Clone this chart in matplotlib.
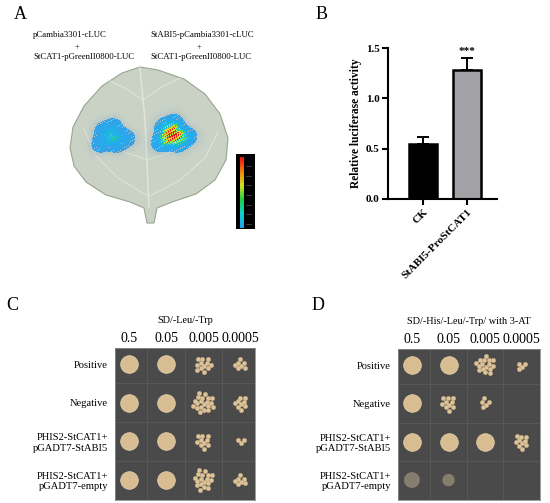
import numpy as np
import matplotlib
matplotlib.use('Agg')
import matplotlib.pyplot as plt
from matplotlib.colors import LinearSegmentedColormap
from matplotlib.patches import Polygon, Rectangle

plt.rcParams['font.family'] = ['Liberation Serif', 'DejaVu Serif']

# ----- panel B data
groups = ['CK', 'StABI5-ProStCAT1']
luc_mean = [0.55, 1.28]
luc_err = [0.065, 0.12]
bar_colors = ['#000000', '#a3a3a7']
signif = ['', '***']

# ----- panel A data
construct_top = ['pCambia3301-cLUC', 'StABI5-pCambia3301-cLUC']
construct_bottom = ['StCAT1-pGreenII0800-LUC', 'StCAT1-pGreenII0800-LUC']
spot_xy = [(112, 137), (173, 135)]
spot_peak = [0.58, 1.1]
spot_size = [(21, 17), (22, 19)]

# ----- panel C/D data
dilutions = ['0.5', '0.05', '0.005', '0.0005']
strains = ['Positive', 'Negative', 'PHIS2-StCAT1+\npGADT7-StABI5',
           'PHIS2-StCAT1+\npGADT7-empty']
# 0 = confluent spot, -1 = faint spot, -2 = nothing, n>0 = n single colonies
growth_C = [[0, 0, 12, 7],
            [0, 0, 20, 9],
            [0, 0, 10, 3],
            [0, 0, 18, 7]]
growth_D = [[0, 0, 16, 4],
            [0, 10, 5, -2],
            [0, 0, 0, 10],
            [-1, -1, -2, -2]]

fig = plt.figure(figsize=(5.5, 5.03), dpi=100)

# canvas in pixel coordinates
ax0 = fig.add_axes([0, 0, 1, 1])
ax0.set_xlim(0, 550)
ax0.set_ylim(503, 0)
ax0.axis('off')

for lab, (px, py) in zip('ABCD', [(20, 14), (322, 14), (12, 305), (318, 305)]):
    ax0.text(px, py, lab, fontsize=13, ha='center', va='center')

for t1, t2, px, pp in zip(construct_top, construct_bottom, [33, 150],
                          [77, 199]):
    ax0.text(px, 35, t1, fontsize=6.3, ha='left', va='center')
    ax0.text(pp, 47, '+', fontsize=6, ha='center', va='center')
    ax0.text(px, 57, t2, fontsize=6.3, ha='left', va='center')

# leaf
leaf = [(140, 67), (158, 70), (184, 79), (205, 94), (220, 114), (228, 138),
        (226, 160), (215, 180), (196, 194), (172, 202), (157, 208),
        (154, 223), (147, 223), (144, 208), (130, 202), (106, 195),
        (86, 182), (74, 166), (70, 148), (73, 127), (84, 106), (102, 86),
        (122, 73)]
ax0.add_patch(Polygon(leaf, closed=True, facecolor='#c9d2c5',
                      edgecolor='#98a590', lw=0.8))
veins = [[(140, 68), (145, 120), (149, 207)],
         [(143, 100), (125, 88), (108, 80)],
         [(143, 100), (163, 86), (180, 78)],
         [(148, 196), (118, 178), (95, 155), (84, 128)],
         [(150, 196), (180, 180), (205, 158), (218, 132)],
         [(147, 160), (120, 150), (98, 138)],
         [(147, 160), (178, 150), (200, 138)]]
for k, v in enumerate(veins):
    v = np.array(v)
    ax0.plot(v[:, 0], v[:, 1], color='#dfe5dc', lw=1.1 if k == 0 else 0.7)

# luciferase signal
luc_cmap = LinearSegmentedColormap.from_list(
    'luc', [(0, '#3a9fe6'), (0.45, '#1cb2ee'), (0.58, '#30d890'),
            (0.68, '#b8f030'), (0.8, '#f0d020'), (0.92, '#e82020'),
            (1, '#e82020')])
gx, gy = np.meshgrid(np.linspace(60, 235, 350), np.linspace(60, 230, 340))
rgb = np.ones(gx.shape + (3,))
alpha = np.zeros(gx.shape + (1,))
for (cx, cy), pk, (sx, sy) in zip(spot_xy, spot_peak, spot_size):
    th = np.arctan2(gy - cy, gx - cx)
    wob = 1 + 0.10 * np.sin(3 * th + 0.5) + 0.06 * np.cos(5 * th)
    r = np.hypot((gx - cx) / sx, (gy - cy) / sy) / wob
    tex = np.sin(1.9 * gx + 0.7 * gy) * np.sin(1.3 * gy - 0.8 * gx)
    inten = pk * np.exp(-(r / 0.7) ** 2) * (0.85 + 0.3 * tex)
    body = np.exp(-r ** 6)
    col = luc_cmap(np.clip(inten, 0, 1))
    col[..., 3] = np.where((body > 0.35) & (tex > -0.55 - 0.4 * body), 1.0, 0.0)
    hal = np.zeros_like(col)
    hal[..., :3] = [0.58, 0.69, 0.79]
    hal[..., 3] = 0.5 * np.exp(-(r / 1.15) ** 6)
    for img in (hal, col):
        m = img[..., 3:4]
        new_a = m + alpha * (1 - m)
        safe = np.where(new_a > 0, new_a, 1)
        rgb = (img[..., :3] * m + rgb * alpha * (1 - m)) / safe
        alpha = new_a
ax0.imshow(np.concatenate([rgb, alpha], axis=-1), extent=(60, 235, 230, 60),
           aspect='auto', zorder=3, interpolation='nearest')

# colour scale bar
scale_cmap = LinearSegmentedColormap.from_list(
    'scale', ['#20a0f0', '#10d0d0', '#20d040', '#d0e020', '#f08010',
              '#f01010'])
ax0.add_patch(Rectangle((236, 154), 19, 75, facecolor='black', zorder=4))
grad = np.linspace(1, 0, 100).reshape(-1, 1)
ax0.imshow(grad, cmap=scale_cmap, extent=(240, 244, 228, 157), aspect='auto',
           zorder=5)
for ty in np.linspace(166, 224, 7):
    ax0.plot([246, 251], [ty, ty], color='#6a6a6a', lw=0.4, zorder=5)

# ----- panel B bar chart
axb = fig.add_axes([388 / 550, 1 - 199 / 503, 109 / 550, 151 / 503])
xpos = np.arange(len(groups))
axb.bar(xpos, luc_mean, width=0.64, color=bar_colors, edgecolor='black',
        linewidth=1.8, zorder=2)
axb.errorbar(xpos, luc_mean, yerr=[[0] * len(groups), luc_err], fmt='none',
             ecolor='black', elinewidth=1.4, capsize=4, capthick=1.4, zorder=1)
for x, m, e, s in zip(xpos, luc_mean, luc_err, signif):
    axb.text(x, m + e + 0.02, s, ha='center', va='bottom', fontsize=8,
             fontweight='bold')
axb.set_xlim(-0.795, 1.68)
axb.set_ylim(0, 1.5)
axb.set_yticks([0, 0.5, 1.0, 1.5])
axb.set_yticklabels(['0.0', '0.5', '1.0', '1.5'])
axb.set_xticks(xpos)
axb.set_xticklabels(groups, rotation=45, ha='right', rotation_mode='anchor')
for lab in axb.get_xticklabels() + axb.get_yticklabels():
    lab.set_fontweight('bold')
    lab.set_fontsize(8)
axb.set_ylabel('Relative luciferase activity', fontsize=8.3,
               fontweight='bold', labelpad=3)
axb.spines['top'].set_visible(False)
axb.spines['right'].set_visible(False)
for sp in ('left', 'bottom'):
    axb.spines[sp].set_linewidth(1.5)
axb.tick_params(width=1.5, length=4, pad=2)


# ----- panels C and D yeast plates
def colony_offsets(n, step):
    k = np.arange(n) + 0.5
    ang = k * np.deg2rad(137.5)
    rad = step * np.sqrt(k)
    return rad * np.cos(ang), rad * np.sin(ang)


def draw_plate(rect, growth, title, xlim):
    ax = fig.add_axes(rect)
    ax.set_facecolor('#4a4a4a')
    ax.set_xlim(*xlim)
    ax.set_ylim(3.52, -0.42)
    for g in [0.5, 1.5, 2.5]:
        ax.axvline(g, color='#575757', lw=0.8)
        ax.axhline(g, color='#575757', lw=0.8)
    for i, row in enumerate(growth):
        for j, g in enumerate(row):
            if g == 0:
                ax.scatter(j, i, s=160, color='#d8bd93', edgecolor='#e6cfa8',
                           lw=0.6, zorder=3)
            elif g == -1:
                ax.scatter(j, i, s=130 if j == 0 else 80, color='#857d6e',
                           edgecolor='none', zorder=3)
            elif g > 0:
                dx, dy = colony_offsets(g, 0.065)
                ax.scatter(j + dx, i + dy, s=10, color='#dcc39a',
                           edgecolor='#c8ab80', lw=0.3, zorder=3)
    ax.xaxis.tick_top()
    ax.set_xticks(range(len(dilutions)))
    ax.set_xticklabels(dilutions, fontsize=10)
    ax.set_yticks(range(len(strains)))
    ax.set_yticklabels(strains, fontsize=7.6, linespacing=1.2)
    ax.tick_params(length=0, pad=2)
    ax.tick_params(axis='y', pad=5)
    for sp in ax.spines.values():
        sp.set_color('#8a8a8a')
        sp.set_linewidth(0.6)
    ax.set_title(title, fontsize=7.4, pad=18)
    return ax


draw_plate([115 / 550, 1 - 500 / 503, 140 / 550, 152 / 503], growth_C,
           'SD/-Leu/-Trp', (-0.37, 3.38))
draw_plate([398 / 550, 1 - 500 / 503, 142 / 550, 151 / 503], growth_D,
           'SD/-His/-Leu/-Trp/ with 3-AT', (-0.38, 3.5))

fig.savefig('out.png', dpi=100)
